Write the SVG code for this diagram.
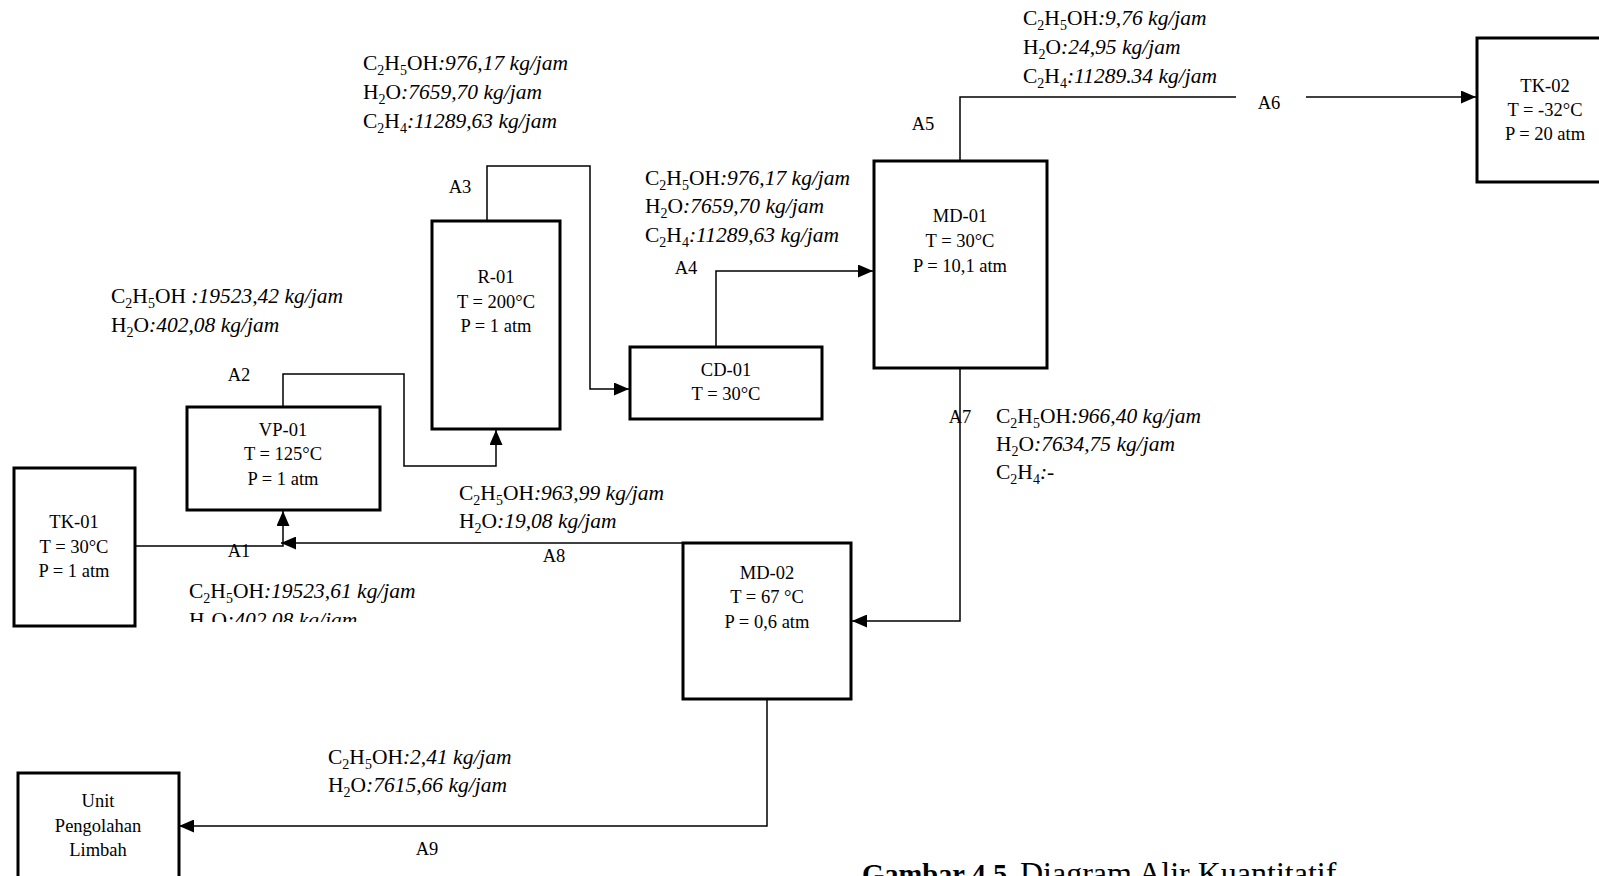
<svg xmlns="http://www.w3.org/2000/svg" width="1599" height="876" viewBox="0 0 1599 876">
<defs>
<style>
text{font-family:"Liberation Serif","Times New Roman",serif;fill:#000}
.n{font-size:18.5px;text-anchor:middle}
.l{font-size:18.5px;text-anchor:middle}
.s{font-size:21.5px}
.i{font-style:italic}
.sb{font-size:14px}
.box{fill:#fff;stroke:#000;stroke-width:3}
.c{fill:none;stroke:#000;stroke-width:1.5}
</style>
<marker id="ah" markerUnits="userSpaceOnUse" markerWidth="15" markerHeight="13" refX="15" refY="6.5" orient="auto">
<path d="M0,0 L15,6.5 L0,13 z" fill="#000"/>
</marker>
<clipPath id="clipA1"><rect x="0" y="0" width="1599" height="622"/></clipPath>
</defs>
<rect width="1599" height="876" fill="#fff"/>

<g id="connectors">
<path class="c" d="M135,546 H283 V511" marker-end="url(#ah)"/>
<path class="c" d="M774,543 H281" marker-end="url(#ah)"/>
<path class="c" d="M774,543 V552 H759"/>
<path class="c" d="M283,407 V374 H404 V466 H496 V430" marker-end="url(#ah)"/>
<path class="c" d="M487,221 V166 H590 V389 H629" marker-end="url(#ah)"/>
<path class="c" d="M716,347 V271 H873" marker-end="url(#ah)"/>
<path class="c" d="M960,161 V97 H1236"/>
<path class="c" d="M1306,97 H1476" marker-end="url(#ah)"/>
<path class="c" d="M960,368 V621 H852" marker-end="url(#ah)"/>
<path class="c" d="M767,699 V826 H179" marker-end="url(#ah)"/>
</g>

<g id="TK-01">
<rect class="box" x="14" y="468" width="121" height="158"/>
<text class="n" x="74" y="528">TK-01</text>
<text class="n" x="74" y="553">T = 30°C</text>
<text class="n" x="74" y="577">P = 1 atm</text>
</g>
<g id="VP-01">
<rect class="box" x="187" y="407" width="193" height="103"/>
<text class="n" x="283" y="436">VP-01</text>
<text class="n" x="283" y="460">T = 125°C</text>
<text class="n" x="283" y="485">P = 1 atm</text>
</g>
<g id="R-01">
<rect class="box" x="432" y="221" width="128" height="208"/>
<text class="n" x="496" y="283">R-01</text>
<text class="n" x="496" y="308">T = 200°C</text>
<text class="n" x="496" y="332">P = 1 atm</text>
</g>
<g id="CD-01">
<rect class="box" x="630" y="347" width="192" height="72"/>
<text class="n" x="726" y="376">CD-01</text>
<text class="n" x="726" y="400">T = 30°C</text>
</g>
<g id="MD-01">
<rect class="box" x="874" y="161" width="173" height="207"/>
<text class="n" x="960" y="222">MD-01</text>
<text class="n" x="960" y="247">T = 30°C</text>
<text class="n" x="960" y="272">P = 10,1 atm</text>
</g>
<g id="TK-02">
<rect class="box" x="1477" y="38" width="140" height="144"/>
<text class="n" x="1545" y="92">TK-02</text>
<text class="n" x="1545" y="116">T = -32°C</text>
<text class="n" x="1545" y="140">P = 20 atm</text>
</g>
<g id="MD-02">
<rect class="box" x="683" y="543" width="168" height="156"/>
<text class="n" x="767" y="579">MD-02</text>
<text class="n" x="767" y="603">T = 67 °C</text>
<text class="n" x="767" y="628">P = 0,6 atm</text>
</g>
<g id="Unit-Pengolahan-Limbah">
<rect class="box" x="18" y="773" width="161" height="120"/>
<text class="n" x="98" y="807">Unit</text>
<text class="n" x="98" y="832">Pengolahan</text>
<text class="n" x="98" y="856">Limbah</text>
</g>

<g id="labels">
<text class="l" x="239" y="557">A1</text>
<text class="l" x="239" y="381">A2</text>
<text class="l" x="460" y="193">A3</text>
<text class="l" x="923" y="130">A5</text>
<text class="l" x="686" y="274">A4</text>
<text class="l" x="1269" y="109">A6</text>
<text class="l" x="960" y="423">A7</text>
<text class="l" x="554" y="562">A8</text>
<text class="l" x="427" y="855">A9</text>
</g>

<g id="streams">
<text class="s" x="363" y="70">C<tspan class="sb" dy="5">2</tspan><tspan dy="-5">H</tspan><tspan class="sb" dy="5">5</tspan><tspan dy="-5">OH</tspan><tspan class="i">:976,17 kg/jam</tspan></text>
<text class="s" x="363" y="99">H<tspan class="sb" dy="5">2</tspan><tspan dy="-5">O</tspan><tspan class="i">:7659,70 kg/jam</tspan></text>
<text class="s" x="363" y="128">C<tspan class="sb" dy="5">2</tspan><tspan dy="-5">H</tspan><tspan class="sb" dy="5">4</tspan><tspan dy="-5" class="i">:11289,63 kg/jam</tspan></text>

<text class="s" x="645" y="185">C<tspan class="sb" dy="5">2</tspan><tspan dy="-5">H</tspan><tspan class="sb" dy="5">5</tspan><tspan dy="-5">OH</tspan><tspan class="i">:976,17 kg/jam</tspan></text>
<text class="s" x="645" y="213">H<tspan class="sb" dy="5">2</tspan><tspan dy="-5">O</tspan><tspan class="i">:7659,70 kg/jam</tspan></text>
<text class="s" x="645" y="242">C<tspan class="sb" dy="5">2</tspan><tspan dy="-5">H</tspan><tspan class="sb" dy="5">4</tspan><tspan dy="-5" class="i">:11289,63 kg/jam</tspan></text>

<text class="s" x="1023" y="25">C<tspan class="sb" dy="5">2</tspan><tspan dy="-5">H</tspan><tspan class="sb" dy="5">5</tspan><tspan dy="-5">OH</tspan><tspan class="i">:9,76 kg/jam</tspan></text>
<text class="s" x="1023" y="54">H<tspan class="sb" dy="5">2</tspan><tspan dy="-5">O</tspan><tspan class="i">:24,95 kg/jam</tspan></text>
<text class="s" x="1023" y="83">C<tspan class="sb" dy="5">2</tspan><tspan dy="-5">H</tspan><tspan class="sb" dy="5">4</tspan><tspan dy="-5" class="i">:11289.34 kg/jam</tspan></text>

<text class="s" x="111" y="303">C<tspan class="sb" dy="5">2</tspan><tspan dy="-5">H</tspan><tspan class="sb" dy="5">5</tspan><tspan dy="-5">OH </tspan><tspan class="i">:19523,42 kg/jam</tspan></text>
<text class="s" x="111" y="332">H<tspan class="sb" dy="5">2</tspan><tspan dy="-5">O</tspan><tspan class="i">:402,08 kg/jam</tspan></text>

<text class="s" x="459" y="500">C<tspan class="sb" dy="5">2</tspan><tspan dy="-5">H</tspan><tspan class="sb" dy="5">5</tspan><tspan dy="-5">OH</tspan><tspan class="i">:963,99 kg/jam</tspan></text>
<text class="s" x="459" y="528">H<tspan class="sb" dy="5">2</tspan><tspan dy="-5">O</tspan><tspan class="i">:19,08 kg/jam</tspan></text>

<g clip-path="url(#clipA1)">
<text class="s" x="189" y="598">C<tspan class="sb" dy="5">2</tspan><tspan dy="-5">H</tspan><tspan class="sb" dy="5">5</tspan><tspan dy="-5">OH</tspan><tspan class="i">:19523,61 kg/jam</tspan></text>
<text class="s" x="189" y="627">H<tspan class="sb" dy="5">2</tspan><tspan dy="-5">O</tspan><tspan class="i">:402,08 kg/jam</tspan></text>
</g>

<text class="s" x="996" y="423">C<tspan class="sb" dy="5">2</tspan><tspan dy="-5">H</tspan><tspan class="sb" dy="5">5</tspan><tspan dy="-5">OH</tspan><tspan class="i">:966,40 kg/jam</tspan></text>
<text class="s" x="996" y="451">H<tspan class="sb" dy="5">2</tspan><tspan dy="-5">O</tspan><tspan class="i">:7634,75 kg/jam</tspan></text>
<text class="s" x="996" y="479">C<tspan class="sb" dy="5">2</tspan><tspan dy="-5">H</tspan><tspan class="sb" dy="5">4</tspan><tspan dy="-5" class="i">:-</tspan></text>

<text class="s" x="328" y="764">C<tspan class="sb" dy="5">2</tspan><tspan dy="-5">H</tspan><tspan class="sb" dy="5">5</tspan><tspan dy="-5">OH</tspan><tspan class="i">:2,41 kg/jam</tspan></text>
<text class="s" x="328" y="792">H<tspan class="sb" dy="5">2</tspan><tspan dy="-5">O</tspan><tspan class="i">:7615,66 kg/jam</tspan></text>
</g>

<g id="caption">
<text x="862" y="884" font-size="28.5" font-weight="bold">Gambar 4.5.</text>
<text x="1020" y="884" font-size="32">Diagram Alir Kuantitatif</text>
</g>
</svg>
